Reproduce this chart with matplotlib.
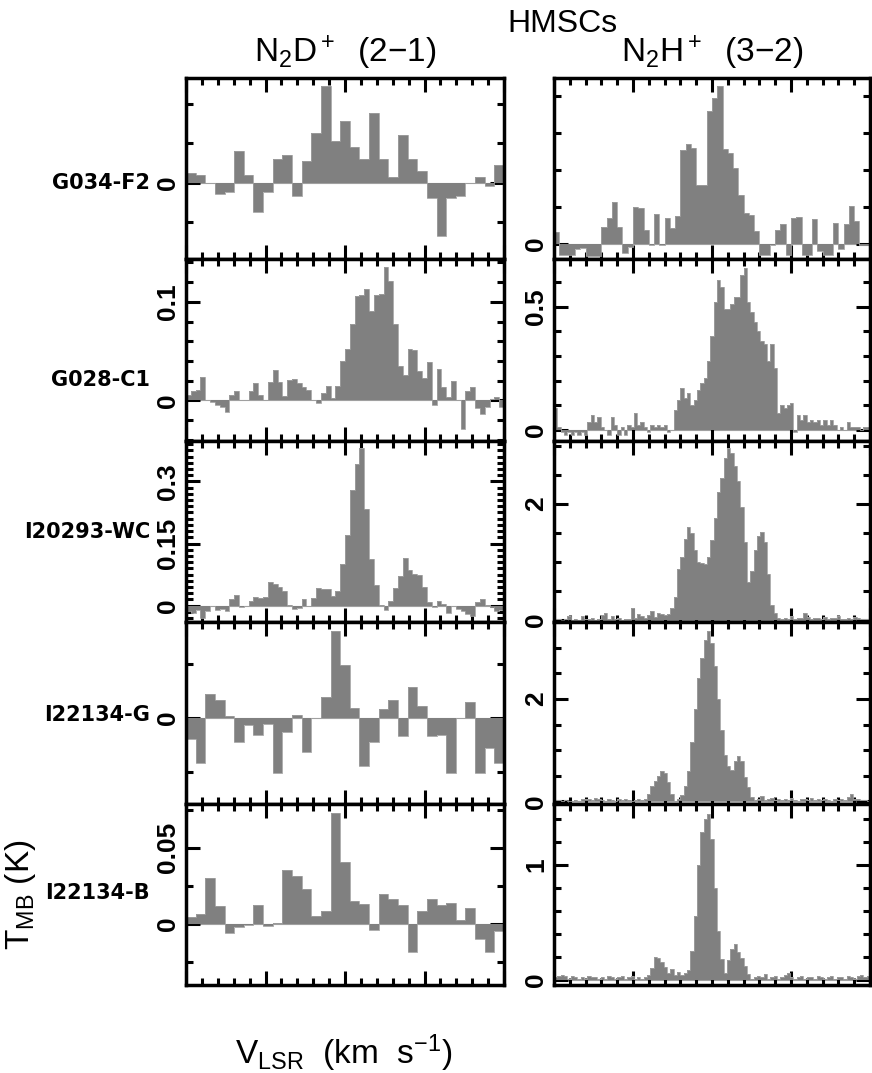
import numpy as np
import matplotlib
matplotlib.use("Agg")
import matplotlib.pyplot as plt
from matplotlib.ticker import MultipleLocator, FixedLocator, FixedFormatter

# ---------------- data ----------------
sources = ["G034-F2", "G028-C1", "I20293-WC", "I22134-G", "I22134-B"]
col_titles = [r"$\mathregular{N_2D^+}$  (2$-$1)", r"$\mathregular{N_2H^+}$  (3$-$2)"]
v_range = (-20.0, 20.0)   # relative velocity (km/s)

# N2D+ (2-1) spectra, T_MB (K)
n2dp_g034 = [0.005, 0.004, 0.000, -0.006, -0.005, 0.016, 0.004, -0.015, -0.005, 0.012,
             0.014, -0.007, 0.011, 0.025, 0.049, 0.021, 0.031, 0.018, 0.012, 0.035,
             0.012, 0.003, 0.024, 0.012, 0.006, -0.008, -0.027, -0.008, -0.007, 0.000,
             0.003, -0.002, 0.009]
n2dp_g028 = [0.005, 0.010, 0.011, 0.024, 0.000, -0.002, -0.005, -0.007, -0.012, 0.005,
             0.010, 0.000, 0.000, 0.010, 0.018, 0.005, 0.000, 0.019, 0.031, 0.019,
             0.004, 0.021, 0.022, 0.018, 0.014, 0.011, 0.000, -0.003, 0.007, 0.015,
             0.002, 0.015, 0.040, 0.052, 0.077, 0.106, 0.107, 0.113, 0.091, 0.107,
             0.108, 0.135, 0.121, 0.077, 0.035, 0.026, 0.052, 0.051, 0.030, 0.023,
             0.039, -0.005, 0.032, 0.014, 0.003, 0.020, 0.000, -0.029, 0.010, 0.014,
             -0.008, -0.014, -0.007, 0.001, 0.003, -0.007]
n2dp_i20293 = [-0.012, -0.018, -0.010, -0.030, -0.014, 0.000, -0.010, -0.008, -0.012, 0.015,
               0.025, -0.003, -0.002, 0.010, 0.020, 0.019, 0.020, 0.058, 0.053, 0.045,
               0.036, 0.002, -0.008, -0.006, 0.016, 0.000, 0.019, 0.043, 0.039, 0.041,
               0.023, 0.036, 0.100, 0.171, 0.278, 0.341, 0.380, 0.234, 0.112, 0.051,
               0.002, -0.010, 0.010, 0.043, 0.071, 0.116, 0.085, 0.077, 0.075, 0.045,
               0.008, -0.004, 0.012, 0.004, -0.018, -0.002, -0.008, -0.012, -0.020, -0.026,
               0.009, 0.016, 0.002, -0.004, -0.012, -0.010]
n2dp_i22134g = [-0.0076, -0.0166, 0.0090, 0.0068, 0.0006, -0.0088, -0.0026, -0.0064, -0.0022, -0.0204,
                -0.0050, 0.0012, -0.0126, 0.0000, 0.0078, 0.0322, 0.0196, 0.0036, -0.0176, -0.0090,
                0.0032, 0.0068, -0.0068, 0.0114, 0.0044, -0.0066, -0.0064, -0.0204, 0.0000, 0.0060,
                -0.0204, -0.0110, -0.0166]
n2dp_i22134b = [0.0043, 0.0065, 0.0300, 0.0113, -0.0065, -0.0022, -0.0010, 0.0124, -0.0015, 0.0004,
                0.0352, 0.0310, 0.0228, 0.0050, 0.0080, 0.0724, 0.0402, 0.0146, 0.0130, -0.0039,
                0.0196, 0.0163, 0.0124, -0.0189, 0.0080, 0.0159, 0.0124, 0.0135, 0.0022, 0.0104,
                -0.0102, -0.0185, -0.0050]

# N2H+ (3-2) spectra, T_MB (K)
n2hp_g034 = [0.032, -0.030, -0.030, -0.030, -0.015, -0.013, -0.035, -0.035, -0.035, 0.045,
             0.070, 0.113, 0.045, -0.025, -0.010, 0.100, 0.096, 0.036, -0.005, 0.081,
             -0.005, 0.068, 0.042, 0.074, 0.255, 0.270, 0.259, 0.158, 0.159, 0.360,
             0.394, 0.426, 0.257, 0.246, 0.205, 0.132, 0.083, 0.077, 0.033, -0.030,
             -0.030, -0.005, 0.036, 0.054, -0.030, 0.069, 0.072, -0.030, -0.030, 0.066,
             -0.020, -0.030, -0.030, 0.056, -0.015, 0.054, 0.102, 0.060, -0.005, -0.005]
n2hp_g028 = [0.09, 0.01, -0.01, -0.02, -0.01, -0.02, -0.01, -0.02, -0.01, -0.02,
             0.03, 0.06, 0.03, 0.05, 0.01, 0.00, -0.02, 0.05, 0.02, -0.02,
             0.01, -0.02, 0.02, 0.01, 0.07, 0.02, 0.03, 0.01, -0.01, 0.02,
             0.01, 0.02, 0.01, 0.02, -0.01, 0.00, 0.08, 0.12, 0.17, 0.13,
             0.15, 0.10, 0.12, 0.16, 0.19, 0.21, 0.28, 0.38, 0.52, 0.61,
             0.58, 0.49, 0.49, 0.51, 0.54, 0.54, 0.63, 0.66, 0.52, 0.48,
             0.44, 0.40, 0.36, 0.35, 0.28, 0.35, 0.25, 0.07, 0.10, 0.09,
             0.10, 0.11, -0.01, 0.06, 0.04, 0.06, 0.03, 0.04, 0.03, 0.04,
             0.02, 0.04, 0.02, 0.04, 0.02, 0.00, 0.01, 0.00, 0.03, 0.01,
             0.01, 0.01, 0.00, 0.01, 0.01]
n2hp_i20293 = [0.02, 0.01, 0.00, 0.01, 0.06, 0.00, 0.01, 0.00, 0.06, 0.02,
               0.01, 0.03, 0.00, 0.02, 0.08, 0.12, 0.02, 0.06, 0.01, 0.03,
               0.00, 0.02, 0.01, 0.20, 0.03, 0.10, 0.06, 0.04, 0.08, 0.15,
               0.05, 0.12, 0.10, 0.08, 0.10, 0.20, 0.40, 0.88, 1.08, 1.40,
               1.60, 1.50, 1.20, 1.00, 0.98, 0.96, 1.08, 1.38, 1.75, 2.20,
               2.45, 2.80, 2.96, 2.88, 2.65, 2.40, 1.95, 1.35, 0.65, 0.85,
               1.20, 1.45, 1.52, 1.35, 0.80, 0.25, 0.12, 0.03, 0.02, 0.03,
               0.01, 0.06, 0.02, 0.03, 0.04, 0.12, 0.05, 0.02, 0.03, 0.04,
               0.02, 0.05, 0.01, 0.04, 0.03, 0.06, 0.02, 0.01, 0.04, 0.02,
               0.05, 0.03, 0.01, 0.02, 0.01]
n2hp_i22134g = [0.03, 0.02, 0.01, 0.02, 0.00, 0.01, 0.02, 0.00, 0.05, 0.04,
                0.05, 0.03, 0.06, 0.05, 0.02, 0.01, 0.04, 0.03, 0.01, 0.05,
                0.02, 0.04, 0.03, 0.01, 0.02, 0.05, 0.02, 0.05, 0.15, 0.30,
                0.40, 0.50, 0.60, 0.55, 0.38, 0.15, 0.00, 0.04, 0.12, 0.30,
                0.60, 1.15, 1.80, 2.40, 2.80, 3.15, 3.32, 3.10, 2.65, 2.00,
                1.40, 0.90, 0.68, 0.62, 0.78, 0.88, 0.78, 0.48, 0.28, 0.08,
                0.03, 0.05, 0.10, 0.03, 0.04, 0.06, 0.02, 0.05, 0.03, 0.04,
                0.02, 0.07, 0.03, 0.01, 0.05, 0.04, 0.02, 0.06, 0.03, 0.05,
                0.02, 0.04, 0.03, 0.01, 0.05, 0.02, 0.04, 0.03, 0.08, 0.15,
                0.04, 0.05, 0.02, 0.03, 0.01]
n2hp_i22134b = [0.02, 0.03, 0.04, 0.03, 0.01, 0.03, 0.02, 0.01, 0.02, 0.01,
                0.03, 0.02, 0.02, 0.01, 0.02, 0.01, 0.03, 0.02, 0.01, 0.02,
                0.03, 0.01, 0.02, 0.03, 0.01, 0.02, 0.01, 0.02, 0.04, 0.10,
                0.20, 0.19, 0.15, 0.11, 0.06, 0.09, 0.04, 0.07, 0.04, 0.06,
                0.08, 0.25, 0.55, 1.00, 1.28, 1.40, 1.44, 1.22, 0.80, 0.42,
                0.18, 0.06, 0.17, 0.27, 0.31, 0.24, 0.19, 0.12, 0.05, 0.01,
                0.02, 0.03, 0.02, 0.05, 0.01, 0.02, 0.03, 0.01, 0.02, 0.04,
                0.06, 0.02, 0.01, 0.02, 0.03, 0.01, 0.02, 0.02, 0.01, 0.03,
                0.02, 0.01, 0.02, 0.03, 0.01, 0.02, 0.02, 0.01, 0.03, 0.02,
                0.01, 0.03, 0.04, 0.02, 0.03]

left_spectra = [n2dp_g034, n2dp_g028, n2dp_i20293, n2dp_i22134g, n2dp_i22134b]
right_spectra = [n2hp_g034, n2hp_g028, n2hp_i20293, n2hp_i22134g, n2hp_i22134b]

# y axis settings per panel: (ylim, major ticks, major labels, minor step)
left_axes_cfg = [
    ((-0.039, 0.053), [0.0], ["0"], 0.02),
    ((-0.041, 0.143), [0.0, 0.1], ["0", "0.1"], 0.02),
    ((-0.040, 0.398), [0.0, 0.15, 0.3], ["0", "0.15", "0.3"], 0.015),
    ((-0.0316, 0.0354), [0.0], ["0"], 0.02),
    ((-0.0404, 0.0789), [0.0, 0.05], ["0", "0.05"], 0.025),
]
right_axes_cfg = [
    ((-0.043, 0.449), [0.0], ["0"], 0.1),
    ((-0.045, 0.693), [0.0, 0.5], ["0", "0.5"], 0.1),
    ((-0.040, 3.09), [0.0, 2.0], ["0", "2"], 0.5),
    ((-0.046, 3.50), [0.0, 2.0], ["0", "2"], 0.5),
    ((-0.046, 1.53), [0.0, 1.0], ["0", "1"], 0.2),
]

# ---------------- figure ----------------
plt.rcParams["font.family"] = ["Liberation Sans", "DejaVu Sans"]
plt.rcParams["mathtext.fontset"] = "custom"
plt.rcParams["mathtext.rm"] = "Liberation Sans"
plt.rcParams["mathtext.it"] = "Liberation Sans:italic"
plt.rcParams["mathtext.bf"] = "Liberation Sans:bold"

W, H = 872, 1073
fig = plt.figure(figsize=(W / 100, H / 100), dpi=100)

col_x = [(186, 504), (554, 870)]
top_px, bot_px = 78, 985
row_h = (bot_px - top_px) / 5
gray = "#808080"
label_y_px = [183, 380, 532, 715, 893]


def style_axes(ax, cfg):
    ylim, majors, labels, minor = cfg
    ax.set_xlim(*v_range)
    ax.set_ylim(*ylim)
    ax.xaxis.set_major_locator(MultipleLocator(10))
    ax.xaxis.set_minor_locator(MultipleLocator(2))
    ax.yaxis.set_major_locator(FixedLocator(majors))
    ax.yaxis.set_major_formatter(FixedFormatter(labels))
    ax.yaxis.set_minor_locator(MultipleLocator(minor))
    ax.tick_params(axis="both", which="both", direction="in", top=True, right=True,
                   labelbottom=False, width=2.2, color="black")
    ax.tick_params(axis="both", which="major", length=10)
    ax.tick_params(axis="both", which="minor", length=5)
    ax.tick_params(axis="y", which="major", labelsize=19, pad=4)
    for lab in ax.get_yticklabels():
        lab.set_rotation(90)
        lab.set_va("center")
        lab.set_fontweight("bold")
    for sp in ax.spines.values():
        sp.set_linewidth(2.5)
        sp.set_zorder(5)


for col, (spectra, cfgs) in enumerate([(left_spectra, left_axes_cfg),
                                        (right_spectra, right_axes_cfg)]):
    x0, x1 = col_x[col]
    for row in range(5):
        y_top = top_px + row * row_h
        ax = fig.add_axes([x0 / W, 1 - (y_top + row_h) / H, (x1 - x0) / W, row_h / H])
        vals = np.asarray(spectra[row])
        edges = np.linspace(v_range[0], v_range[1], len(vals) + 1)
        ax.stairs(vals, edges, baseline=0, fill=True, color=gray, lw=0, zorder=2)
        ax.stairs(vals, edges, baseline=0, fill=False, color="#a0a0a0", lw=0.6, zorder=2)
        ax.axhline(0, color="#a0a0a0", lw=0.8, zorder=1)
        style_axes(ax, cfgs[row])
        if col == 0:
            fig.text(150 / W, 1 - label_y_px[row] / H, sources[row], ha="right",
                     va="center", fontsize=15, fontweight="bold",
                     family="DejaVu Sans")

# column titles
for col in range(2):
    x0, x1 = col_x[col]
    fig.text((x0 + x1) / 2 / W, 1 - 62 / H, col_titles[col], ha="center",
             va="baseline", fontsize=24)

fig.text(562 / W, 1 - 32 / H, "HMSCs", ha="center", va="baseline", fontsize=23)

fig.text(20 / W, 1 - 895 / H, r"$\mathregular{T_{MB}}$ (K)", rotation=90,
         ha="center", va="center", fontsize=24)
fig.text(344 / W, 1 - 1064 / H, r"$\mathregular{V_{LSR}}$  (km  s$^{-1}$)",
         ha="center", va="baseline", fontsize=24)

fig.savefig("out.png", dpi=100)
